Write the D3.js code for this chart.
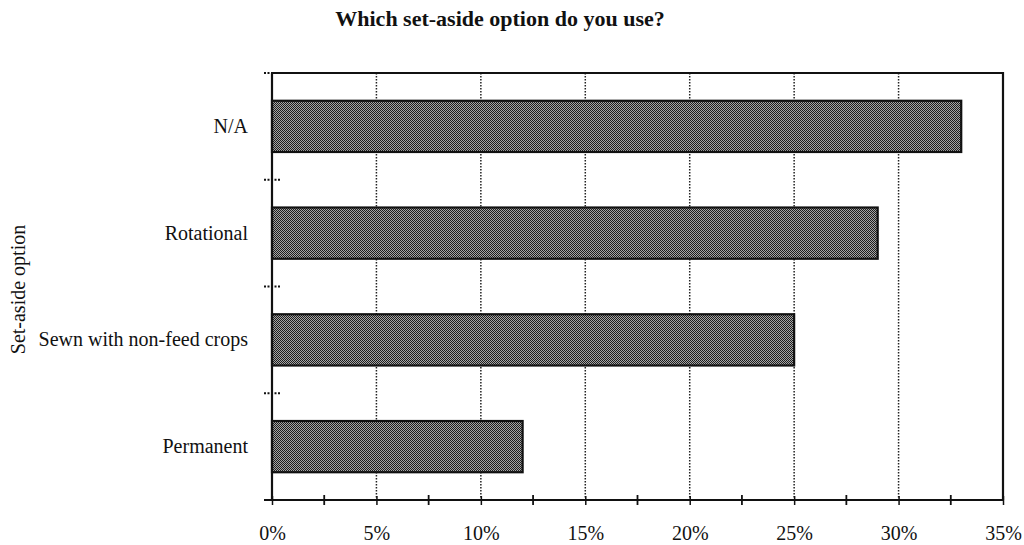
<!DOCTYPE html>
<html>
<head>
<meta charset="utf-8">
<script src="https://cdn.jsdelivr.net/npm/d3@7"></script>
<style>
  html, body { margin: 0; padding: 0; background: #fff; }
  svg { display: block; }
  text { font-family: "Liberation Serif", "Times New Roman", serif; fill: #111; }
</style>
</head>
<body>
<svg id="chart" width="1024" height="545"></svg>
<script>
// Survey responses: share of respondents per set-aside option
const categories = ["N/A", "Rotational", "Sewn with non-feed crops", "Permanent"];
const shares = [33, 29, 25, 12];
const tickValues = [0, 5, 10, 15, 20, 25, 30, 35];
const tickLabels = ["0%", "5%", "10%", "15%", "20%", "25%", "30%", "35%"];
const minorTicks = [2.5, 7.5, 12.5, 17.5, 22.5, 27.5, 32.5];

const svg = d3.select("#chart");
const plotLeft = 272, plotRight = 1003, plotTop = 73, plotBottom = 500;

const x = d3.scaleLinear().domain([0, 35]).range([plotLeft, plotRight]);
const y = d3.scaleBand().domain(categories).range([plotTop, plotBottom])
  .paddingInner(0.52).paddingOuter(0.26);

// halftone-like fill for the bars
const defs = svg.append("defs");
const pat = defs.append("pattern")
  .attr("id", "halftone").attr("patternUnits", "userSpaceOnUse")
  .attr("width", 2).attr("height", 2);
pat.append("rect").attr("width", 2).attr("height", 2).attr("fill", "#a6a6a6");
pat.append("rect").attr("x", 0).attr("y", 0).attr("width", 1).attr("height", 1).attr("fill", "#1e1e1e");
pat.append("rect").attr("x", 1).attr("y", 1).attr("width", 1).attr("height", 1).attr("fill", "#1e1e1e");

// title
svg.append("text")
  .attr("x", 500).attr("y", 26)
  .attr("text-anchor", "middle")
  .style("font-weight", "bold").style("font-size", "22px")
  .text("Which set-aside option do you use?");

// dotted vertical gridlines at major ticks
svg.append("g").selectAll("line")
  .data(tickValues.filter(v => v > 0 && v < 35))
  .join("line")
  .attr("x1", d => x(d)).attr("x2", d => x(d))
  .attr("y1", plotTop).attr("y2", plotBottom)
  .attr("stroke", "#222").attr("stroke-width", 1.5)
  .attr("stroke-dasharray", "1.5,1.5");

// bars
svg.append("g").selectAll("rect")
  .data(categories)
  .join("rect")
  .attr("x", x(0))
  .attr("y", d => y(d))
  .attr("width", (d, i) => x(shares[i]) - x(0))
  .attr("height", y.bandwidth())
  .attr("fill", "url(#halftone)")
  .attr("stroke", "#111").attr("stroke-width", 2.2);

// frame: top and right edges
svg.append("path")
  .attr("d", `M${plotLeft},${plotTop}H${plotRight}V${plotBottom}`)
  .attr("fill", "none").attr("stroke", "#111").attr("stroke-width", 2.2);

// x axis
const xAxis = d3.axisBottom(x)
  .tickValues(tickValues)
  .tickFormat((d, i) => tickLabels[i])
  .tickSize(4).tickPadding(22);
const gx = svg.append("g").attr("transform", `translate(0,${plotBottom})`).call(xAxis);
gx.select(".domain").attr("stroke", "#111").attr("stroke-width", 2.2)
  .attr("d", `M${plotLeft - 8},0H${plotRight}`);
gx.selectAll(".tick line").attr("stroke", "#111").attr("stroke-width", 1.5)
  .attr("y1", -4).attr("y2", 5);
gx.selectAll(".tick text")
  .style("font-size", "20px")
  .style("font-family", "'Liberation Serif', 'Times New Roman', serif")
  .attr("fill", "#111");

// minor ticks between the labelled ones
gx.append("g").selectAll("line")
  .data(minorTicks)
  .join("line")
  .attr("x1", d => x(d)).attr("x2", d => x(d))
  .attr("y1", -5).attr("y2", 5)
  .attr("stroke", "#111").attr("stroke-width", 1.8);

// y axis: labels at band centres, ticks at band edges
const yAxis = d3.axisLeft(y).tickSize(0).tickPadding(24);
const gy = svg.append("g").attr("transform", `translate(${plotLeft},0)`).call(yAxis);
gy.select(".domain").attr("stroke", "#111").attr("stroke-width", 2.2)
  .attr("d", `M0,${plotTop}V${plotBottom}`);
gy.selectAll(".tick text")
  .style("font-size", "20px")
  .style("font-family", "'Liberation Serif', 'Times New Roman', serif")
  .attr("fill", "#111");

const edges = categories.map(c => y(c) - y.step() * y.paddingInner() / 2).slice(1)
  .concat([plotTop]);
gy.append("g").selectAll("line")
  .data(edges)
  .join("line")
  .attr("x1", -8).attr("x2", 9)
  .attr("y1", d => d).attr("y2", d => d)
  .attr("stroke", "#111").attr("stroke-width", 2)
  .attr("stroke-dasharray", "2,1.5");

// y axis title
svg.append("text")
  .attr("transform", `translate(25,${(plotTop + plotBottom) / 2 + 3}) rotate(-90)`)
  .attr("text-anchor", "middle")
  .style("font-size", "20px")
  .text("Set-aside option");
</script>
</body>
</html>
